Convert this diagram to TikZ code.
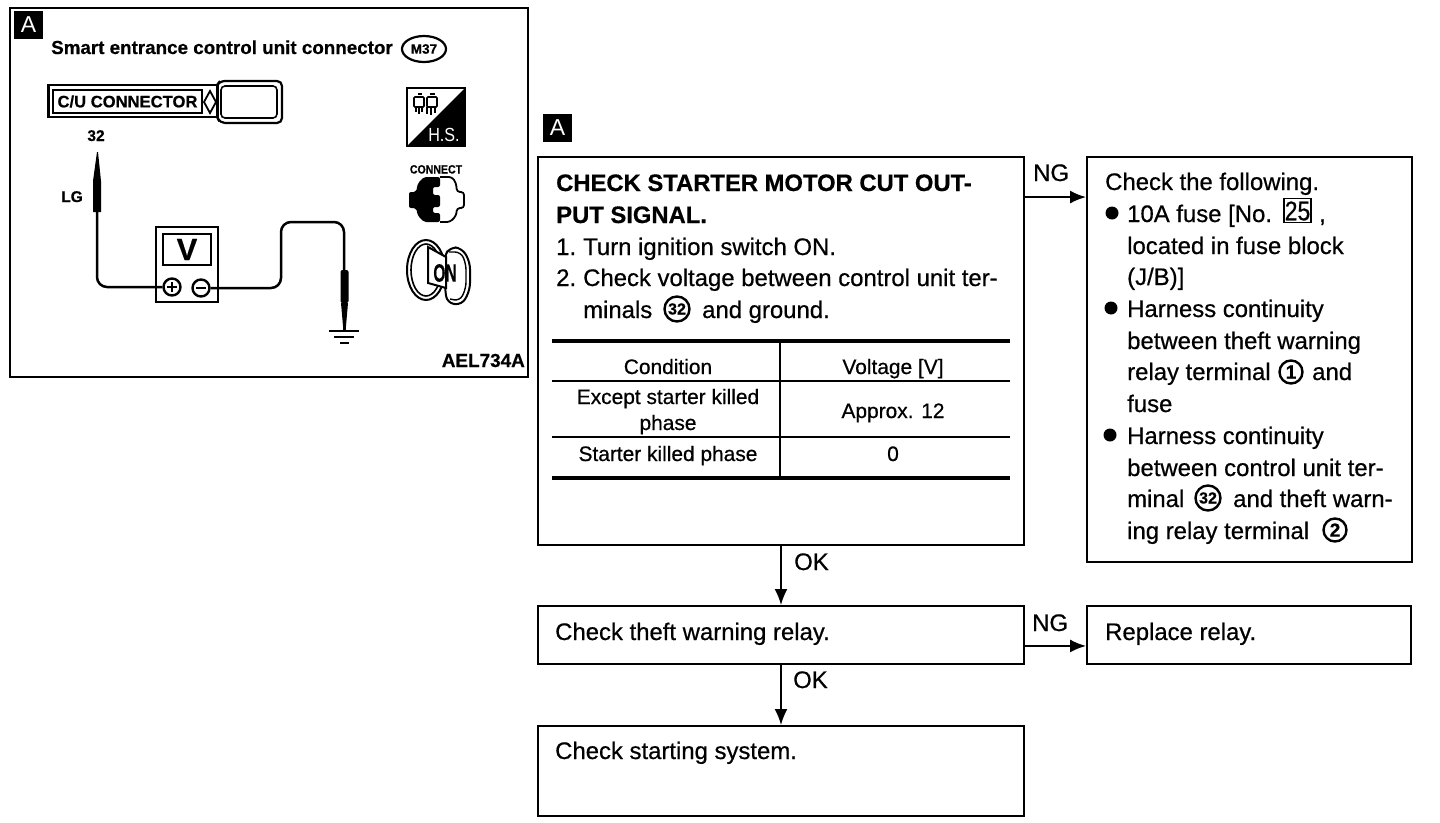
\documentclass[tikz,border=0pt]{standalone}
\usepackage{fontspec}
\setmainfont{Liberation Sans}
\newfontfamily\medf[FakeBold=0.6]{Liberation Sans}
\newfontfamily\hdf[FakeBold=0.5]{Liberation Sans}
\usetikzlibrary{arrows.meta,calc,shapes.geometric}
\tikzset{
 box/.style={draw=black,line width=1.9pt,rectangle,inner sep=0,fill=white},
 lab/.style={anchor=base west,inner sep=0,font=\medf\fontsize{23.9}{26}\selectfont},
 tb/.style={anchor=base,inner sep=0,font=\medf\fontsize{20.9}{24}\selectfont},
 hd/.style={anchor=base west,inner sep=0,font=\hdf\bfseries\fontsize{23.8}{26}\selectfont},
 arr/.style={line width=1.9pt,-{Latex[length=16pt,width=13pt]}},
 circ/.style={draw=black,circle,line width=2.4pt,inner sep=0,minimum size=23pt,font=\hdf\bfseries\fontsize{19}{20}\selectfont},
 circb/.style={draw=black,circle,line width=2.4pt,inner sep=0,minimum size=25pt,font=\hdf\bfseries\fontsize{16}{16}\selectfont},
 badge/.style={fill=black,text=white,inner sep=0,minimum width=29pt,minimum height=28pt,font=\fontsize{23}{24}\selectfont},
 bul/.style={fill=black,circle,inner sep=0,minimum size=13pt},
 heavy/.style={line width=4pt},
 thin1/.style={line width=1.9pt},
 wire/.style={line width=2.5pt,rounded corners=10pt},
 pl/.style={anchor=base,inner sep=0,font=\hdf\bfseries\fontsize{15.5}{18}\selectfont},
}
\begin{document}
\begin{tikzpicture}[x=1pt,y=-1pt]
\useasboundingbox (0,0) rectangle (1440,822);
\fill[white] (0,0) rectangle (1440,822);
% left panel
\node[box,minimum width=518pt,minimum height=369pt] (panel) at (269,192.5) {};
\node[badge] (ba) at (28.5,24.5) {A};
\node[anchor=base west,inner sep=0,font=\hdf\bfseries\fontsize{18.8}{20}\selectfont] (title) at (51,54) {Smart entrance control unit connector};
\node[draw,ellipse,line width=2.2pt,minimum width=44pt,minimum height=26pt,inner sep=0,font=\hdf\bfseries\fontsize{13.5}{14}\selectfont] (m37) at (424,49) {M37};
% C/U connector
\draw[line width=2.2pt,rounded corners=5pt,fill=white] (217,85) -- (220,81) -- (282,81) -- (282,123) -- (220,123) -- (217,117) -- cycle;
\draw[line width=1.6pt,rounded corners=4pt] (221,86) rectangle (277,118);
\node[draw,line width=2.2pt,minimum width=169pt,minimum height=32pt,inner sep=0,fill=white] (cuo) at (133,101) {};
\node[draw,line width=2.2pt,minimum width=149pt,minimum height=23pt,inner sep=0,font=\hdf\bfseries\fontsize{16.6}{18}\selectfont] (cui) at (127.5,101.5) {C/U CONNECTOR};
\draw[line width=1.8pt] (210,91) -- (216,102) -- (210,113) -- (204,102) -- cycle;
\node[pl] (n32) at (96,141) {32};
\node[pl] (lg) at (72,202) {LG};
% left probe and wire
\fill (97,152) -- (98,152) -- (101,181) -- (101,212) -- (93,212) -- (93,181) -- cycle;
\node[draw,line width=2.2pt,minimum width=62pt,minimum height=75pt,inner sep=0] (meter) at (187,264.5) {};
\node[draw,line width=2.2pt,minimum width=48pt,minimum height=31pt,inner sep=0,font=\hdf\bfseries\fontsize{31}{32}\selectfont] (disp) at (187,249.5) {V};
\node[draw,circle,line width=2.4pt,minimum size=17pt,inner sep=0] (plus) at (172,287) {};
\node[draw,circle,line width=2.4pt,minimum size=17pt,inner sep=0] (minus) at (201,288) {};
\draw[line width=2.6pt] (167,287) -- (177,287) (172,282) -- (172,292);
\draw[line width=2.6pt] (196,288) -- (206,288);
\coordinate (pa) at (97,212);
\coordinate (pb) at (344,270);
\draw[wire] (pa) -- (97,287) -- (plus.west);
\draw[wire] (minus.east) -- (281,288) -- (281,222) -- (344,222) -- (pb);
\fill[rounded corners=2pt] (340.5,270) rectangle (348.5,303);
\fill (341,303) -- (348,303) -- (346,326) -- (343,326) -- cycle;
\draw[line width=2.2pt] (344.5,326) -- (344.5,331);
\draw[line width=2.6pt] (329,331) -- (359,331) (334,337) -- (354,337) (340,343) -- (349,343);
% icons
\draw[line width=1.5pt] (407,88) rectangle (465,146);
\fill (465,88) -- (465,146) -- (407,146) -- cycle;
\node[anchor=base,inner sep=0,text=white,xscale=0.85,font=\fontsize{19}{20}\selectfont] (hs) at (444,141) {H.S.};
\draw[line width=1.6pt,rounded corners=1pt] (414,97) rectangle (424,107) (427,97) rectangle (437,107);
\draw[line width=1.6pt] (418,94) -- (422,94) (430,94) -- (435,94);
\draw[line width=1.5pt] (416,107) -- (416,112) (419,107) -- (419,114) (422,107) -- (422,112) (427,107) -- (427,114) (431,107) -- (431,115) (435,107) -- (435,113);
\node[anchor=base,inner sep=0,xscale=0.88,font=\hdf\bfseries\fontsize{12}{12}\selectfont] (conn) at (436,173.5) {CONNECT};
\draw[line width=1.8pt,rounded corners=3pt] (440,177) -- (452,177) -- (456,183) -- (457,192) -- (464,192) -- (464,208) -- (457,208) -- (456,216) -- (450,222) -- (440,222);
\fill[rounded corners=2pt] (424,177) -- (440,177) -- (440,187) -- (433,187) -- (433,195) -- (440,195) -- (440,207) -- (433,207) -- (433,213) -- (440,213) -- (440,222) -- (424,222) -- (418,216) -- (416,208) -- (409,208) -- (409,192) -- (416,192) -- (418,183) -- cycle;
\draw[line width=2pt] (426,270) ellipse (19pt and 30pt);
\draw[line width=1.6pt] (426,270) ellipse (15pt and 26pt);
\draw[line width=2pt,fill=white,rounded corners=7pt] (444,257) -- (450,247) -- (462,248) -- (470,262) -- (470,290) -- (462,305) -- (447,303) -- (445,288) -- cycle;
\draw[line width=1.4pt,rounded corners=6pt] (449,252) -- (461,252) -- (466,264) -- (466,288) -- (460,301) -- (450,299);
\draw[line width=2pt,fill=white] (428,247) -- (428,283) -- (446,288) -- (446,257) -- cycle;
\node[inner sep=0,xscale=0.62,font=\hdf\bfseries\fontsize{25}{26}\selectfont] (on) at (445,273) {ON};
\node[anchor=base east,inner sep=0,font=\hdf\bfseries\fontsize{18.9}{20}\selectfont] (ael) at (525,367) {AEL734A};
% right flow
\node[badge] (bb) at (557.5,127.5) {A};
\node[box,minimum width=486pt,minimum height=388pt] (main) at (781,351) {};
\node[box,minimum width=325pt,minimum height=405pt] (chk) at (1249.5,359.5) {};
\node[box,minimum width=486pt,minimum height=58pt] (theft) at (781,635) {};
\node[box,minimum width=324pt,minimum height=58pt] (repl) at (1249,635) {};
\node[box,minimum width=486pt,minimum height=90pt] (start) at (781,771) {};
\draw[arr] ([yshift=-41pt]main.north east) -- ([yshift=-41pt]main.north east -| chk.west);
\draw[arr] (main.south) -- (theft.north);
\draw[arr] ([yshift=19pt]theft.south east) -- ([yshift=19pt]theft.south east -| repl.west);
\draw[arr] (theft.south) -- (start.north);
\node[lab] (ng1) at (1033,181) {NG};
\node[lab] (ok1) at (794,570) {OK};
\node[lab] (ng2) at (1032,631) {NG};
\node[lab] (ok2) at (793,688) {OK};
% main box text
\node[hd] (h1) at (556,191) {CHECK STARTER MOTOR CUT OUT-};
\node[hd] (h2) at (556,223) {PUT SIGNAL.};
\node[lab] (s1) at (556,255) {1.};
\node[lab] (s1b) at (583,255) {Turn ignition switch ON.};
\node[lab] (s2) at (556,286) {2.};
\node[lab] (s2b) at (583,286) {Check voltage between control unit ter-};
\node[lab] (s3) at (583,318) {minals};
\node[circb] (c32a) at (677,309) {32};
\node[lab] (s3b) at (702,318) {and ground.};
% table
\draw[heavy] (552,341) -- (1010,341);
\draw[thin1] (552,381) -- (1010,381);
\draw[thin1] (552,437) -- (1010,437);
\draw[heavy] (552,478) -- (1010,478);
\draw[thin1] (780,341) -- (780,478);
\node[tb] (t1) at (668,374) {Condition};
\node[tb] (t2) at (893,374) {Voltage [V]};
\node[tb] (t3) at (668,404) {Except starter killed};
\node[tb] (t4) at (668,430) {phase};
\node[tb] (t5) at (893,418) {Approx. 12};
\node[tb] (t6) at (668,461) {Starter killed phase};
\node[tb] (t7) at (893,461) {0};
% right box text
\node[lab] (r1) at (1105,190) {Check the following.};
\node[bul] (b1) at (1112,213) {};
\node[lab] (r2) at (1127,222) {10A fuse [No.};
\node[draw,line width=1.5pt,minimum width=27pt,minimum height=24pt,inner sep=0] (f25) at (1297.5,210.5) {};
\node[inner sep=0,xscale=0.85,font=\medf\fontsize{27}{27}\selectfont] (f25t) at (1297.5,211) {25};
\node[lab] (r2b) at (1319,222) {,};
\node[lab] (r3) at (1127,254) {located in fuse block};
\node[lab] (r4) at (1127,285) {(J/B)]};
\node[bul] (b2) at (1111,308) {};
\node[lab] (r5) at (1127,317) {Harness continuity};
\node[lab] (r6) at (1127,349) {between theft warning};
\node[lab] (r7) at (1127,380) {relay terminal};
\node[circ] (c1) at (1291,372) {1};
\node[lab] (r7b) at (1312,380) {and};
\node[lab] (r8) at (1127,412) {fuse};
\node[bul] (b3) at (1110,435) {};
\node[lab] (r9) at (1127,444) {Harness continuity};
\node[lab] (r10) at (1127,476) {between control unit ter-};
\node[lab] (r11) at (1127,507) {minal};
\node[circb] (c32b) at (1208,498) {32};
\node[lab] (r11b) at (1233,507) {and theft warn-};
\node[lab] (r12) at (1127,539) {ing relay terminal};
\node[circ] (c2) at (1335,530) {2};
\node[lab] (x1) at (555,640) {Check theft warning relay.};
\node[lab] (x2) at (1105,640) {Replace relay.};
\node[lab] (x3) at (555,759) {Check starting system.};
\end{tikzpicture}
\end{document}
